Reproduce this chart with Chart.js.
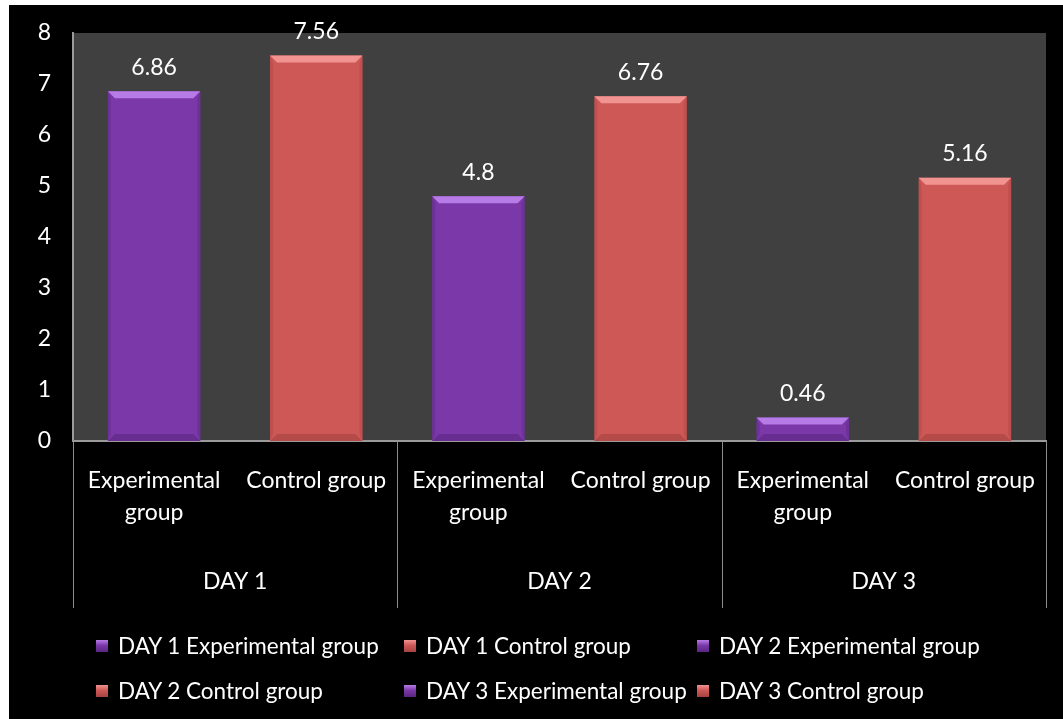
<!DOCTYPE html>
<html><head><meta charset="utf-8">
<script src="https://cdn.jsdelivr.net/npm/chart.js@4"></script>
<style>
html,body{margin:0;padding:0;background:#fff;}
#wrap{position:absolute;left:9px;top:5px;width:1054px;height:714px;background:#000;}
#c{position:absolute;left:0;top:0;}
#legend{position:absolute;left:87px;top:618px;display:grid;grid-template-columns:308px 293px 300px;}
.item{display:flex;align-items:center;font:22.5px Lato, 'Open Sans', sans-serif;color:#fff;height:45px;white-space:nowrap;}
.box{width:12px;height:12px;margin-right:10px;flex:none;}
</style>
</head><body>
<div id="wrap"><canvas id="c" width="1054" height="714"></canvas><div id="legend"></div></div>
<script>
const days = ['DAY 1', 'DAY 2', 'DAY 3'];
const groups = ['Experimental group', 'Control group'];
const groupTickLabels = [['Experimental', 'group'], ['Control group']];
const experimental = [6.86, 4.8, 0.46];
const control = [7.56, 6.76, 5.16];
const yTicks = [0, 1, 2, 3, 4, 5, 6, 7, 8];

const palette = [
  {base: '#7A38A8', light: '#B67BE6', dark: '#5A2680'},
  {base: '#CD5856', light: '#F09391', dark: '#A54341'}
];
const groupValues = [experimental, control];

const xLabels = [];
days.forEach(() => groupTickLabels.forEach(l => xLabels.push(l)));

const datasets = [];
days.forEach((d, di) => {
  groups.forEach((g, gi) => {
    const idx = di * groups.length + gi;
    const data = xLabels.map((_, k) => k === idx ? groupValues[gi][di] : null);
    datasets.push({label: d + ' ' + g, data, backgroundColor: palette[gi].base, _pal: palette[gi]});
  });
});

const FONT = 'Lato, "Open Sans", sans-serif';
const FS = 23;

const plotBg = {
  id: 'plotBg',
  beforeDraw(chart) {
    const {ctx, chartArea: a} = chart;
    ctx.save(); ctx.fillStyle = '#404040';
    ctx.fillRect(a.left, a.top, a.right - a.left, a.bottom - a.top);
    ctx.restore();
  }
};

const bevel = {
  id: 'bevel',
  afterDatasetsDraw(chart) {
    const ctx = chart.ctx;
    chart.data.datasets.forEach((ds, i) => {
      const meta = chart.getDatasetMeta(i);
      meta.data.forEach((el, k) => {
        if (ds.data[k] == null) return;
        const {x, y, base, width} = el.getProps(['x', 'y', 'base', 'width'], true);
        const l = x - width / 2, r = x + width / 2, t = y, b = base;
        const bv = Math.min(7, (b - t) / 2);
        const p = ds._pal;
        ctx.save();
        ctx.fillStyle = p.light;
        ctx.beginPath(); ctx.moveTo(l, t); ctx.lineTo(r, t); ctx.lineTo(r - bv, t + bv); ctx.lineTo(l + bv, t + bv); ctx.closePath(); ctx.fill();
        ctx.globalAlpha = 0.6; ctx.fillStyle = p.dark;
        ctx.beginPath(); ctx.moveTo(l, b); ctx.lineTo(r, b); ctx.lineTo(r - bv, b - bv); ctx.lineTo(l + bv, b - bv); ctx.closePath(); ctx.fill();
        ctx.globalAlpha = 0.35;
        ctx.beginPath(); ctx.moveTo(l, t); ctx.lineTo(l + 3, t + bv); ctx.lineTo(l + 3, b - bv); ctx.lineTo(l, b); ctx.closePath(); ctx.fill();
        ctx.beginPath(); ctx.moveTo(r, t); ctx.lineTo(r - 3, t + bv); ctx.lineTo(r - 3, b - bv); ctx.lineTo(r, b); ctx.closePath(); ctx.fill();
        ctx.restore();
        ctx.save();
        ctx.fillStyle = '#fff'; ctx.font = FS + 'px ' + FONT;
        ctx.textAlign = 'center'; ctx.textBaseline = 'middle';
        ctx.fillText(String(ds.data[k]), x, t - 24);
        ctx.restore();
      });
    });
  }
};

const multiLevel = {
  id: 'multiLevel',
  afterDraw(chart) {
    const ctx = chart.ctx, xs = chart.scales.x;
    const catW = (xs.right - xs.left) / xLabels.length;
    const span = catW * groups.length;
    ctx.save();
    ctx.strokeStyle = '#8c8c8c'; ctx.lineWidth = 1;
    for (let k = 0; k <= days.length; k++) {
      const px = Math.round(xs.left + k * span) + 0.5;
      ctx.beginPath(); ctx.moveTo(px, xs.top); ctx.lineTo(px, xs.bottom); ctx.stroke();
    }
    ctx.fillStyle = '#fff'; ctx.font = FS + 'px ' + FONT;
    ctx.textAlign = 'center'; ctx.textBaseline = 'middle';
    days.forEach((d, k) => {
      ctx.fillText(d, xs.left + (k + 0.5) * span, xs.bottom - 26);
    });
    ctx.restore();
  }
};

new Chart(document.getElementById('c'), {
  type: 'bar',
  data: {labels: xLabels, datasets},
  options: {
    responsive: false, animation: false,
    layout: {padding: {top: 28, right: 17, bottom: 111, left: 0}},
    datasets: {bar: {grouped: false, categoryPercentage: 1, barPercentage: 0.57, skipNull: true}},
    plugins: {legend: {display: false}, tooltip: {enabled: false}},
    scales: {
      x: {
        grid: {display: false, drawTicks: false},
        border: {color: '#9a9a9a', width: 2},
        ticks: {color: '#fff', font: {family: FONT, size: FS, lineHeight: 1.4}, padding: 23, maxRotation: 0, autoSkip: false},
        afterFit(s) { s.height = 167; s.paddingLeft = 0; s.paddingRight = 0; }
      },
      y: {
        min: yTicks[0], max: yTicks[yTicks.length - 1],
        afterBuildTicks(s) { s.ticks = yTicks.map(v => ({value: v})); },
        grid: {display: false, drawTicks: false},
        border: {color: '#9a9a9a', width: 2},
        ticks: {color: '#fff', font: {family: FONT, size: FS}, padding: 22},
        afterFit(s) { s.width = 64; s.paddingTop = 0; s.paddingBottom = 0; }
      }
    }
  },
  plugins: [plotBg, bevel, multiLevel]
});

const leg = document.getElementById('legend');
datasets.forEach(ds => {
  const it = document.createElement('div'); it.className = 'item';
  const bx = document.createElement('span'); bx.className = 'box';
  bx.style.background = 'linear-gradient(180deg,' + ds._pal.light + ' 0%,' + ds._pal.base + ' 45%,' + ds._pal.dark + ' 100%)';
  const tx = document.createElement('span'); tx.textContent = ds.label;
  it.appendChild(bx); it.appendChild(tx); leg.appendChild(it);
});
</script>
</body></html>
